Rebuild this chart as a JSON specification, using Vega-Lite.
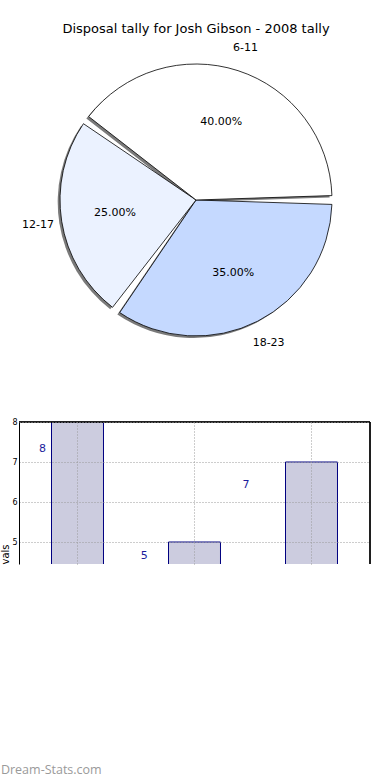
{
  "$schema": "https://vega.github.io/schema/vega-lite/v6.json",
  "padding": {"top": 22, "left": 0, "right": 0, "bottom": 0},
  "background": "white",
  "config": {"view": {"stroke": null}, "font": "DejaVu Sans", "concat": {"spacing": 64}},
  "title": {"text": "Dream-Stats.com", "orient": "bottom", "anchor": "start", "frame": "bounds", "font": "Open Sans", "fontSize": 12.5, "fontWeight": "normal", "color": "#9a9a9a", "offset": 199},
  "vconcat": [
    {
      "title": {"text": "Disposal tally for Josh Gibson - 2008 tally", "fontSize": 13, "fontWeight": "normal", "anchor": "middle", "offset": 6, "color": "black"},
      "width": 354,
      "height": 308,
      "data": {"values": [
        {"age": "18-23", "pct": 35, "label": "35.00%", "order": 1},
        {"age": "12-17", "pct": 25, "label": "25.00%", "order": 2},
        {"age": "6-11", "pct": 40, "label": "40.00%", "order": 3}
      ]},
      "encoding": {
        "theta": {"field": "pct", "type": "quantitative", "stack": true, "scale": {"range": [1.5708, 7.854]}},
        "order": {"field": "order", "type": "quantitative"}
      },
      "layer": [
        {
          "mark": {"type": "arc", "radius": 136, "padAngle": 0.065, "color": "#7a7a7a"},
          "encoding": {
            "x": {"datum": -0.013, "type": "quantitative", "scale": {"domain": [-1, 1], "nice": false, "zero": false}, "axis": null},
            "y": {"datum": -0.013, "type": "quantitative", "scale": {"domain": [-1, 1], "nice": false, "zero": false}, "axis": null}
          }
        },
        {
          "mark": {"type": "arc", "radius": 136, "padAngle": 0.065, "stroke": "black", "strokeWidth": 0.8},
          "encoding": {
            "color": {"field": "age", "type": "nominal", "scale": {"domain": ["6-11", "12-17", "18-23"], "range": ["#ffffff", "#ebf2ff", "#c5d9ff"]}, "legend": null}
          }
        },
        {
          "mark": {"type": "text", "radius": 82, "fontSize": 11, "color": "black"},
          "encoding": {"text": {"field": "label"}}
        },
        {
          "mark": {"type": "text", "radius": 160, "fontSize": 11, "color": "black"},
          "encoding": {"text": {"field": "age"}}
        }
      ]
    },
    {
      "width": 351,
      "height": 142,
      "data": {"values": [
        {"slot": "6-11", "tally": 8, "lx": 0.2, "ly": 7.33},
        {"slot": "12-17", "tally": 5, "lx": 1.07, "ly": 4.65},
        {"slot": "18-23", "tally": 7, "lx": 1.94, "ly": 6.43}
      ]},
      "layer": [
        {
          "mark": {"type": "bar", "fill": "#ccccdf", "stroke": "#000080", "strokeWidth": 1, "clip": true},
          "encoding": {
            "x": {"field": "slot", "type": "nominal", "sort": null, "scale": {"paddingInner": 0.5556, "paddingOuter": 0.2778},
                  "axis": {"labels": false, "ticks": false, "title": null, "domain": false, "grid": true, "gridDash": [1, 2], "gridColor": "#9a9a9a", "zindex": 1}},
            "y": {"field": "tally", "type": "quantitative", "scale": {"domain": [4.45, 8], "zero": false, "nice": false},
                  "axis": {"values": [5, 6, 7, 8], "grid": true, "gridDash": [1, 2], "gridColor": "#9a9a9a", "zindex": 1, "labelFontSize": 8, "labelColor": "black", "ticks": false, "labelPadding": 2, "domainColor": "black", "title": "vals", "titleAnchor": "start", "titleFontSize": 10, "titleFontWeight": "normal", "titleColor": "black", "titlePadding": 1}}
          }
        },
        {
          "mark": {"type": "text", "color": "#1c1c9c", "fontSize": 11},
          "encoding": {
            "x": {"field": "lx", "type": "quantitative", "scale": {"domain": [0, 3], "nice": false, "zero": false}, "axis": null},
            "y": {"field": "ly", "type": "quantitative"},
            "text": {"field": "tally", "type": "quantitative"}
          }
        },
        {
          "mark": {"type": "rule", "color": "black", "strokeWidth": 1},
          "encoding": {"y": {"datum": 8}}
        },
        {
          "mark": {"type": "rule", "color": "black", "strokeWidth": 1},
          "encoding": {"x": {"datum": 3, "type": "quantitative", "scale": {"domain": [0, 3], "nice": false, "zero": false}, "axis": null}}
        }
      ],
      "resolve": {"scale": {"x": "independent"}}
    }
  ]
}
